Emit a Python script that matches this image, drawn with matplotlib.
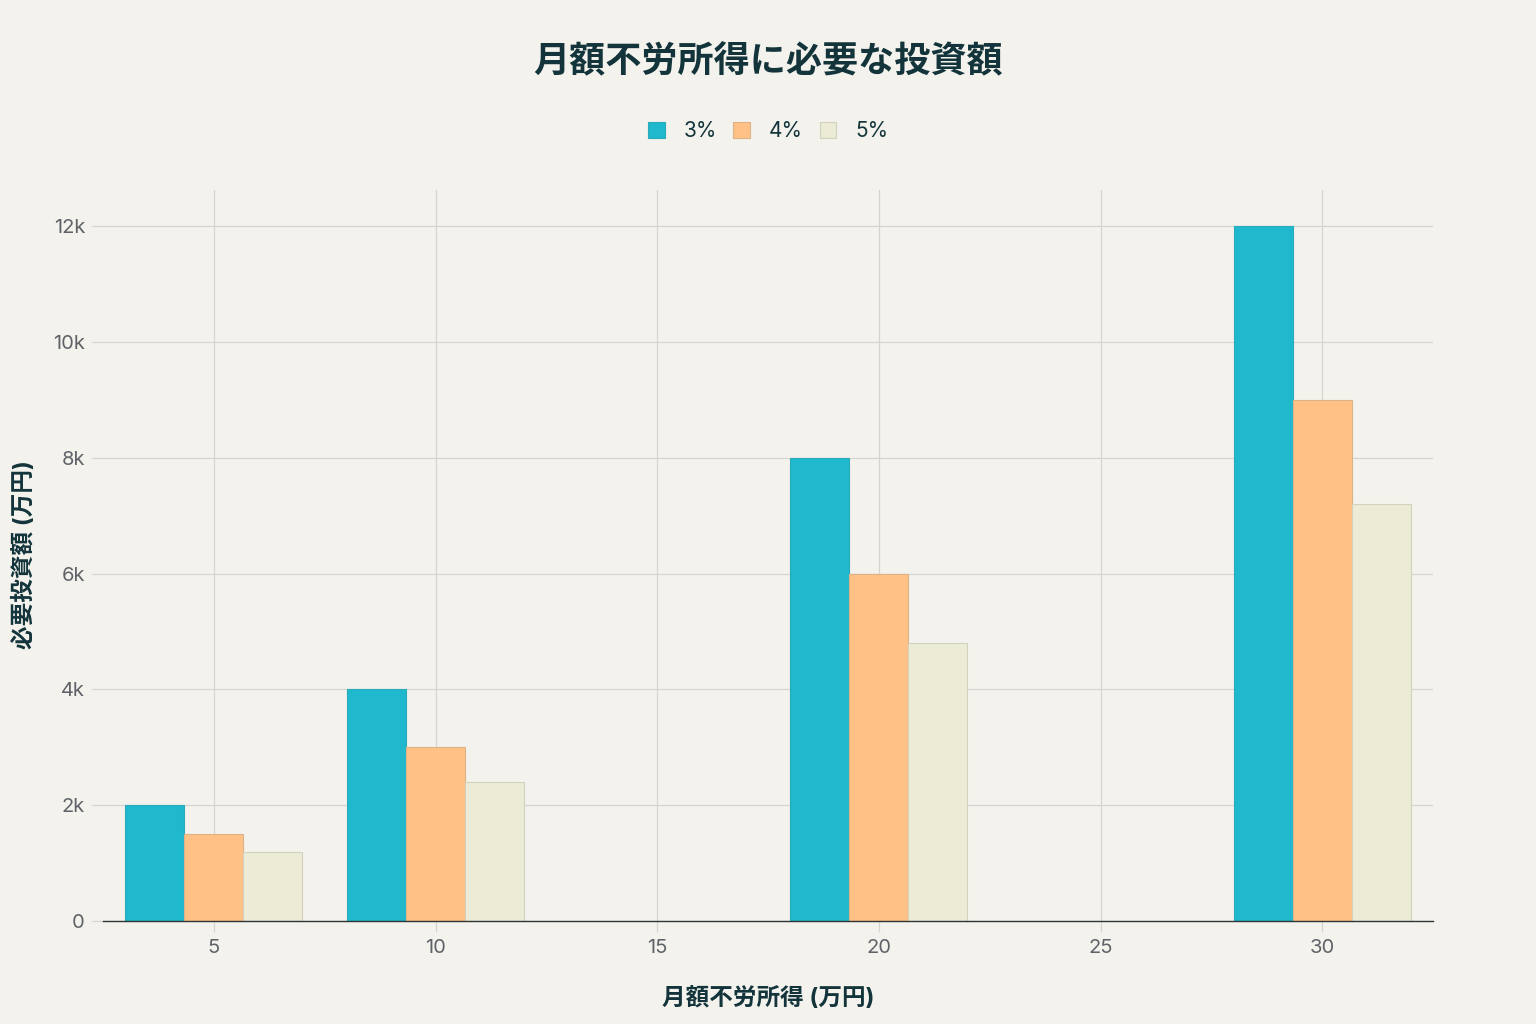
import numpy as np
import matplotlib
import matplotlib.pyplot as plt
from matplotlib.ticker import FuncFormatter

matplotlib.use("agg")

# data
income = [5, 10, 20, 30]  # 月額不労所得 (万円)
rates = ["3%", "4%", "5%"]
need_3 = [2000, 4000, 8000, 12000]
need_4 = [1500, 3000, 6000, 9000]
need_5 = [1200, 2400, 4800, 7200]

colors = ["#1FB8CD", "#FFC185", "#ECEBD5"]
edges = ["#2aaabb", "#dcb286", "#d3d1bd"]
bg = "#F3F2EC"
grid_c = "#D5D5D0"
text_c = "#5f6368"

plt.rcParams["font.family"] = ["Inter", "Noto Sans CJK JP", "DejaVu Sans"]

fig = plt.figure(figsize=(15.36, 10.24), dpi=100, facecolor=bg)
ax = fig.add_axes([103 / 1536, 1 - 921 / 1024, 1330 / 1536, 731 / 1024])
ax.set_facecolor(bg)

width = 4 / 3
x = np.array(income, dtype=float)
series = [need_3, need_4, need_5]
for i, (vals, lab) in enumerate(zip(series, rates)):
    ax.bar(x + (i - 1) * width, vals, width=width, color=colors[i],
           edgecolor=edges[i], linewidth=0.8, label=lab, zorder=3)

ax.set_xlim(2.5, 32.5)
ax.set_ylim(0, 12630)
ax.set_xticks([5, 10, 15, 20, 25, 30])
ax.set_yticks(np.arange(0, 12001, 2000))
ax.yaxis.set_major_formatter(FuncFormatter(lambda v, p: "0" if v == 0 else f"{int(v/1000)}k"))

ax.grid(True, color=grid_c, linewidth=0.9, zorder=0)
for s in ["top", "right", "left"]:
    ax.spines[s].set_visible(False)
ax.spines["bottom"].set_color("#2f3437")
ax.spines["bottom"].set_linewidth(1.0)
ax.spines["bottom"].set_zorder(4)
ax.tick_params(axis="both", colors=grid_c, length=8, width=0.9,
               labelcolor=text_c, labelsize=14.5, pad=5)

ax.set_xlabel("月額不労所得 (万円)", fontsize=17, fontweight="bold", color="#13343B")
ax.xaxis.set_label_coords(0.5, -(998 - 921) / 731, transform=ax.transAxes)
ax.xaxis.label.set_va("center")
ax.set_ylabel("必要投資額 (万円)", fontsize=17, fontweight="bold", color="#13343B")
ax.yaxis.set_label_coords(-(103 - 24) / 1330, (921 - 555) / 731, transform=ax.transAxes)
ax.yaxis.label.set_va("center")

fig.text(0.5, 1 - 62 / 1024, "月額不労所得に必要な投資額", ha="center", va="center",
         fontsize=26, fontweight="bold", color="#13343B")

fig.legend(loc="center", bbox_to_anchor=(0.5, 1 - 131 / 1024), ncol=3,
           frameon=False, fontsize=15, handlelength=0.8, handleheight=0.8,
           handletextpad=0.9, columnspacing=0.8, labelcolor="#13343B")

fig.savefig("out.png", dpi=100, facecolor=bg)
